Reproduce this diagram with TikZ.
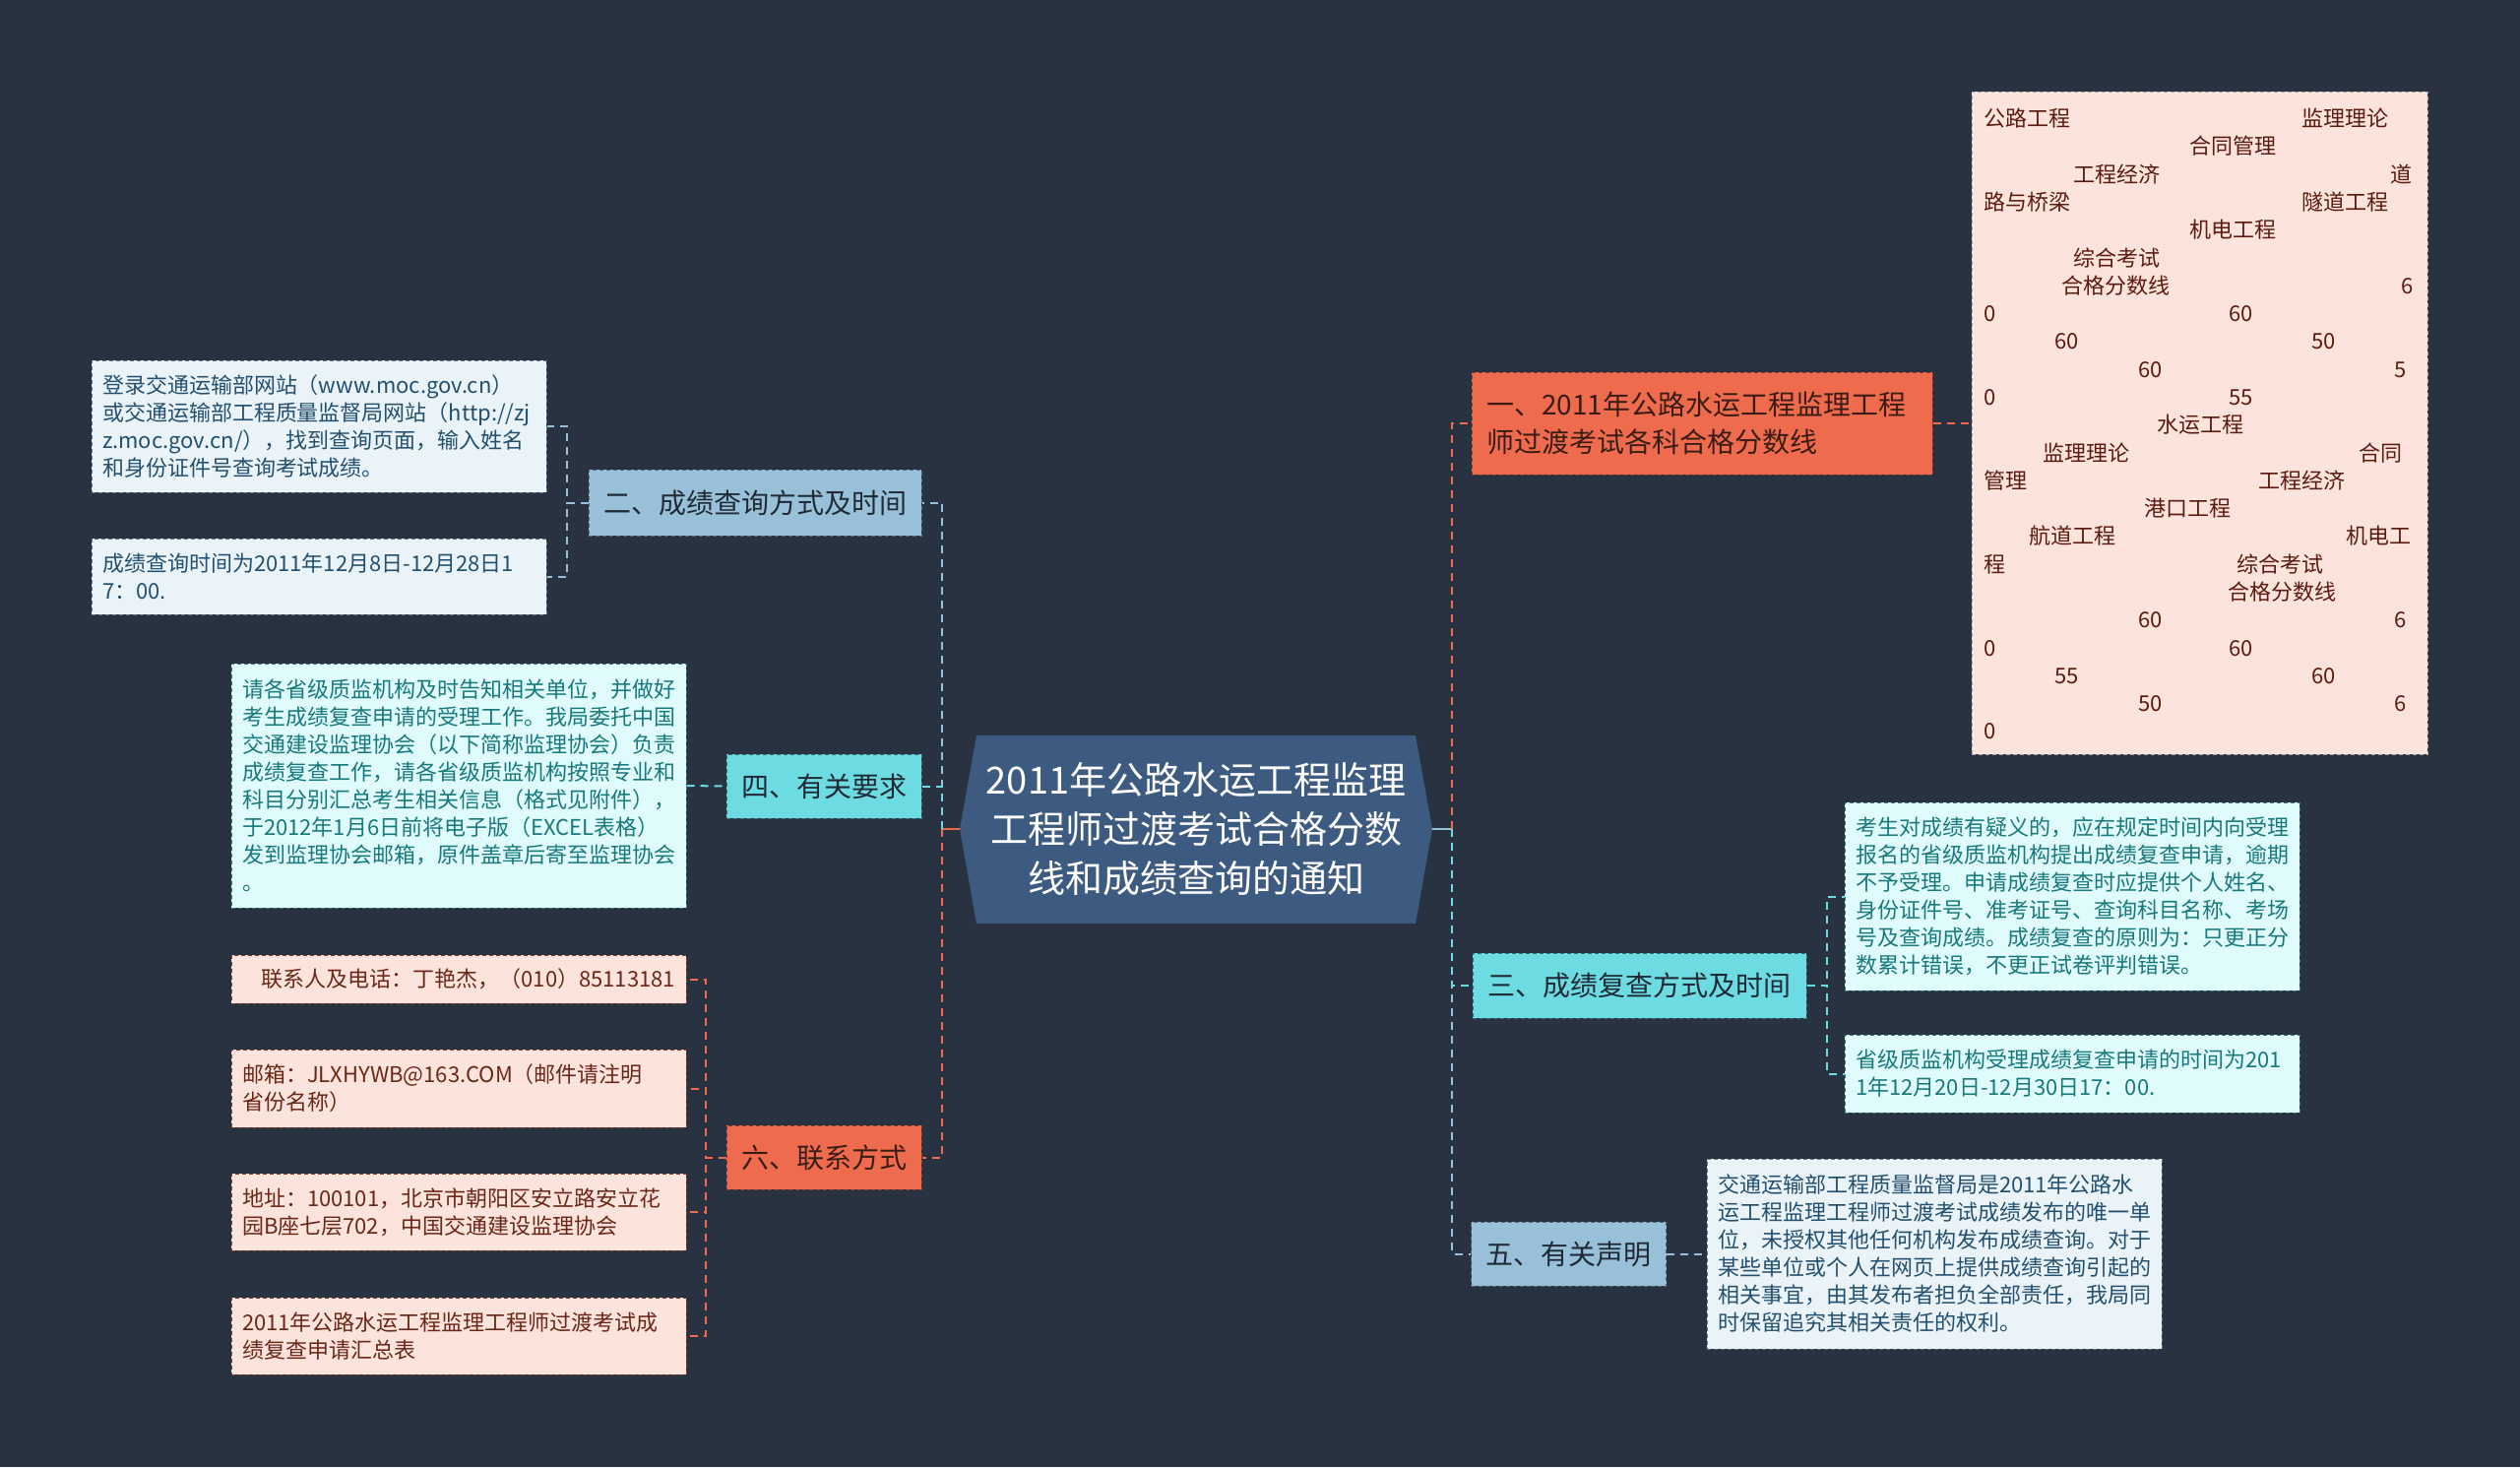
\documentclass[tikz,border=0pt]{standalone}
\usepackage{fontspec}
\setmainfont{Noto Sans CJK SC}
\definecolor{bg}{HTML}{293241}
\definecolor{cen}{HTML}{3D5A80}
\definecolor{orn}{HTML}{EE6C4D}
\definecolor{blu}{HTML}{98C1D9}
\definecolor{cya}{HTML}{6CDCE2}
\definecolor{lpink}{HTML}{FCE4DD}
\definecolor{lblue}{HTML}{EAF3F8}
\definecolor{lcyan}{HTML}{E0FBFC}
\definecolor{tbrown}{HTML}{6B2617}
\definecolor{tblue}{HTML}{23506F}
\definecolor{tteal}{HTML}{17797B}
\definecolor{tdark}{HTML}{1F2A36}
\definecolor{tobr}{HTML}{3A1C14}
\definecolor{ttab}{HTML}{5C1A10}
\begin{document}
\begin{tikzpicture}[x=0.5pt,y=-0.5pt,
  box/.style={dash pattern=on 2pt off 1.5pt, line width=0.5pt, inner ysep=0pt},
  leaf/.style={box, text width=220pt, align=left, minimum width=231pt, inner xsep=5.5pt, font=\fontsize{11}{14}\selectfont},
  bleaf/.style={leaf, fill=lblue, draw=blu!60!black, text=tblue},
  cleaf/.style={leaf, fill=lcyan, draw=cya!55!black, text=tteal},
  oleaf/.style={leaf, fill=lpink, draw=orn!55!black, text=tbrown},
  branch/.style={box, inner xsep=7.5pt, font=\fontsize{14}{19}\selectfont},
  bbr/.style={branch, fill=blu, draw=blu!55!black, text=tdark},
  cbr/.style={branch, fill=cya, draw=cya!50!black, text=tdark},
  obr/.style={branch, fill=orn, draw=orn!55!black, text=tobr},
  conn/.style={line width=1pt, dash pattern=on 4pt off 3pt},
  tt/.style={anchor=west, inner sep=0pt, text=ttab, font=\fontsize{11}{14}\selectfont, text height=8.5pt, text depth=2pt}
]
\useasboundingbox (0,0) rectangle (2560,1490);
\fill[bg] (0,0) rectangle (2560,1490);

% central node
\fill[cen] (975,842) -- (992,747) -- (1438,747) -- (1455,842) -- (1438,938) -- (992,938) -- cycle;
\node[minimum width=240pt, minimum height=95.5pt, inner sep=0pt, align=center, text=white,
  font=\fontsize{19}{25}\selectfont] (c) at (1215,842)
  {2011年公路水运工程监理\\工程师过渡考试合格分数\\线和成绩查询的通知};

\coordinate (sl) at (957,842);
\coordinate (sr) at (1475,842);

% left branch nodes
\node[bbr, minimum width=169pt, minimum height=33.5pt] (n2) at (767,510.5) {二、成绩查询方式及时间};
\node[cbr, minimum width=99pt, minimum height=32.5pt] (n4) at (837,798.5) {四、有关要求};
\node[obr, minimum width=99pt, minimum height=32.5pt] (n6) at (837,1175.5) {六、联系方式};

% right branch nodes
\node[obr, minimum width=234pt, minimum height=52pt, text width=219pt, align=left, inner xsep=7.5pt] (n1) at (1729,430)
  {一、2011年公路水运工程监理工程\\师过渡考试各科合格分数线};
\node[cbr, minimum width=169.5pt, minimum height=33pt] (n3) at (1665.5,1001) {三、成绩复查方式及时间};
\node[bbr, minimum width=97.5pt, minimum height=32.5pt] (n5) at (1593.5,1273.5) {五、有关声明};

% leaves of 二
\node[bleaf, minimum height=67pt] (l2a) at (324,433)
  {登录交通运输部网站（www.moc.gov.cn）\\或交通运输部工程质量监督局网站（http://zj\\z.moc.gov.cn/），找到查询页面，输入姓名\\和身份证件号查询考试成绩。};
\node[bleaf, minimum height=38.5pt] (l2b) at (324,585.5)
  {成绩查询时间为2011年12月8日-12月28日1\\7：00.};

% leaf of 四
\node[cleaf, minimum height=124pt] (l4) at (466,798)
  {请各省级质监机构及时告知相关单位，并做好\\考生成绩复查申请的受理工作。我局委托中国\\交通建设监理协会（以下简称监理协会）负责\\成绩复查工作，请各省级质监机构按照专业和\\科目分别汇总考生相关信息（格式见附件），\\于2012年1月6日前将电子版（EXCEL表格）\\发到监理协会邮箱，原件盖章后寄至监理协会\\。};

% leaves of 六
\node[oleaf, minimum height=24.5pt, align=right] (l6a) at (466,994.5) {联系人及电话：丁艳杰，（010）85113181};
\node[oleaf, minimum height=39.5pt] (l6b) at (466,1105.5) {邮箱：JLXHYWB@163.COM（邮件请注明\\省份名称）};
\node[oleaf, minimum height=39pt] (l6c) at (466,1231) {地址：100101，北京市朝阳区安立路安立花\\园B座七层702，中国交通建设监理协会};
\node[oleaf, minimum height=39pt] (l6d) at (466,1357) {2011年公路水运工程监理工程师过渡考试成\\绩复查申请汇总表};

% leaves of 三
\node[cleaf, minimum height=95.5pt] (l3a) at (2105,910.5)
  {考生对成绩有疑义的，应在规定时间内向受理\\报名的省级质监机构提出成绩复查申请，逾期\\不予受理。申请成绩复查时应提供个人姓名、\\身份证件号、准考证号、查询科目名称、考场\\号及查询成绩。成绩复查的原则为：只更正分\\数累计错误，不更正试卷评判错误。};
\node[cleaf, minimum height=39.5pt] (l3b) at (2105,1090.5)
  {省级质监机构受理成绩复查申请的时间为201\\1年12月20日-12月30日17：00.};

% leaf of 五
\node[bleaf, minimum height=96.5pt] (l5) at (1965,1273.5)
  {交通运输部工程质量监督局是2011年公路水\\运工程监理工程师过渡考试成绩发布的唯一单\\位，未授权其他任何机构发布成绩查询。对于\\某些单位或个人在网页上提供成绩查询引起的\\相关事宜，由其发布者担负全部责任，我局同\\时保留追究其相关责任的权利。};

% table of 一
\node[box, fill=lpink, draw=black!35, minimum width=231.5pt, minimum height=336.5pt, inner sep=0pt] (tbl) at (2234.5,429.5) {};
\foreach \x/\r/\t [count=\i] in {
 2015/1/公路工程, 2338/1/监理理论, 2224/2/合同管理, 2106/3/工程经济, 2428/3/道,
 2015/4/路与桥梁, 2338/4/隧道工程, 2224/5/机电工程, 2106/6/综合考试, 2094/7/合格分数线,
 2439/7/6, 2015/8/0, 2264/8/60, 2087/9/60, 2348/9/50, 2172/10/60, 2432/10/5,
 2015/11/0, 2264/11/55, 2191/12/水运工程, 2075/13/监理理论, 2396/13/合同,
 2015/14/管理, 2294/14/工程经济, 2178/15/港口工程, 2061/16/航道工程, 2383/16/机电工,
 2015/17/程, 2272/17/综合考试, 2263/18/合格分数线, 2172/19/60, 2432/19/6,
 2015/20/0, 2264/20/60, 2087/21/55, 2348/21/60, 2172/22/50, 2432/22/6, 2015/23/0}
 \node[tt] (tx\i) at (\x,{122.2+(\r-1)*28.28}) {\t};

% connectors from centre
\draw[orn, line width=1pt] (c.west) -- (sl);
\draw[blu, line width=1pt] (c.east) -- (sr);
\draw[conn, blu] (sl) -- (sl |- n2.east) -- (n2.east);
\draw[conn, cya] (sl) -- (sl |- n4.east) -- (n4.east);
\draw[conn, orn] (sl) -- (sl |- n6.east) -- (n6.east);
\draw[conn, orn] (sr) -- (sr |- n1.west) -- (n1.west);
\draw[conn, blu] (sr) -- (sr |- n5.west) -- (n5.west);
\draw[conn, cya] (sr) -- (sr |- n3.west) -- (n3.west);

% leaf connectors
\coordinate (b2) at (576,0);
\coordinate (b6) at (717,0);
\coordinate (b3) at (1856,0);
\foreach \l in {l2a,l2b}
  \draw[conn, blu] (n2.west) -- (b2 |- n2.west) -- (b2 |- \l.east) -- (\l.east);
\foreach \l in {l6a,l6b,l6c,l6d}
  \draw[conn, orn] (n6.west) -- (b6 |- n6.west) -- (b6 |- \l.east) -- (\l.east);
\foreach \l in {l3a,l3b}
  \draw[conn, cya] (n3.east) -- (b3 |- n3.east) -- (b3 |- \l.west) -- (\l.west);
\draw[conn, cya] (l4.east) -- (n4.west);
\draw[conn, blu] (n5.east) -- (l5.west);
\draw[conn, orn] (n1.east) -- (n1.east -| tbl.west);
\end{tikzpicture}
\end{document}
